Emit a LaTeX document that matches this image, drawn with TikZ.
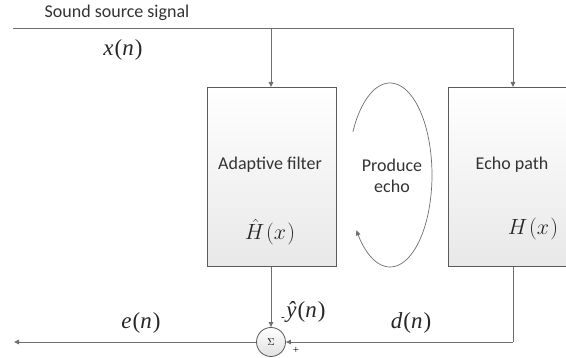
\RequirePackage{fix-cm}
\documentclass[tikz,border=0pt]{standalone}
\usepackage{fontspec}
\setmainfont{Carlito}
\newfontfamily\tms{Liberation Serif}
\usetikzlibrary{arrows.meta}
\definecolor{ln}{HTML}{6E6E6E}
\definecolor{bd}{HTML}{5A5A5A}
\definecolor{tx}{HTML}{333333}
\begin{document}
\begin{tikzpicture}[x=1pt,y=-1pt,
  line/.style={draw=ln, line width=0.9pt},
  arr/.style={line, -{Triangle[length=5pt,width=4.5pt]}},
  blk/.style={draw=bd, line width=0.8pt, top color=white, bottom color=black!9,
    minimum width=129pt, minimum height=179pt, anchor=north west, inner sep=0pt},
  lbl/.style={font=\fontsize{18}{21}\selectfont, text=tx, inner sep=1pt},
  mth/.style={font=\fontsize{23}{24}\selectfont\tms, text=black!85, inner sep=1pt},
  hm/.style={font=\fontsize{22}{24}\selectfont, text=black!85, inner sep=1pt}]
\useasboundingbox (0,0) rectangle (566,358);
\clip (0,0) rectangle (566,358);
\node[blk] (af) at (207,87) {};
\node[blk, minimum width=140pt] (ep) at (448,87) {};
\node[lbl] (aft) at (270,165) {Adaptive filter};
\node[lbl] (ept) at (512,165) {Echo path};
\node[hm] (afh) at (270,232) {$\hat{H}\mkern1.5mu(x\mkern1mu)$};
\node[hm] (eph) at (533,229) {$H\mkern1.5mu(x\mkern1mu)$};
\node[lbl, align=center] (pe) at (392,176) {Produce\\echo};
\node[lbl] (sss) at (117,13) {Sound source signal};
\node[mth] (xn) at (123,50) {\textit{x}\kern1pt(\textit{n}\kern1pt)};
\node[mth] (en) at (141,323) {\textit{e}\kern1pt(\textit{n}\kern1pt)};
\node[mth] (dn) at (411,323) {\textit{d}\kern1pt(\textit{n}\kern1pt)};
\node[mth] (yn) at (306,312) {\textit{\^{y}}\kern1pt(\textit{n}\kern1pt)};
\node[circle, draw=bd, line width=0.8pt, top color=white, bottom color=black!12,
  minimum size=29pt, inner sep=0pt, font=\fontsize{10}{10}\selectfont] (sum) at (271,342) {$\Sigma$};
\node[font=\fontsize{11}{11}\selectfont\tms, inner sep=0pt] (minus) at (283,319) {-};
\node[font=\fontsize{11}{11}\selectfont\tms, inner sep=0pt] (plus) at (296,350) {+};
\coordinate (t0) at (13,28);
\coordinate (t1) at (271,28);
\coordinate (t2) at (513,28);
\coordinate (b2) at (513,342);
\coordinate (out) at (14,342);
\draw[line] (t0) -- (t2);
\draw[arr] (t1) -- (t1 |- af.north);
\draw[arr] (t2) -- (t2 |- ep.north);
\draw[line] (t2 |- ep.south) -- (b2);
\draw[arr] (b2) -- (sum.east);
\draw[arr] (t1 |- af.south) -- (sum.north);
\draw[arr] (sum.west) -- (out);
\draw[arr, line width=0.7pt] plot[domain=208:503, samples=90, smooth] ({390+42*cos(\x)}, {175+92*sin(\x)});
\end{tikzpicture}
\end{document}
